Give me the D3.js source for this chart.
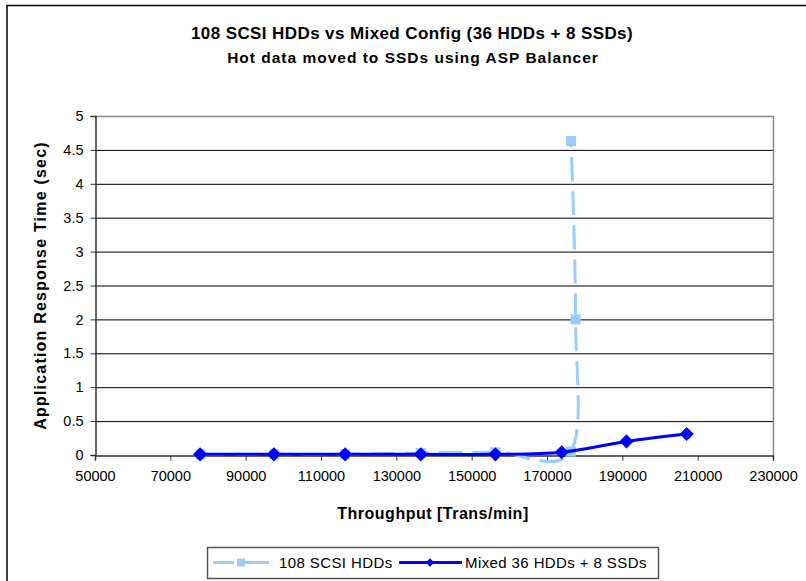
<!DOCTYPE html>
<html>
<head>
<meta charset="utf-8">
<script src="https://cdn.jsdelivr.net/npm/d3@7"></script>
<style>
  body { margin: 0; background: #fff; }
  text { font-family: "Liberation Sans", Arial, sans-serif; }
</style>
</head>
<body>
<div id="container"></div>
<script>
// data
const hddThroughput = [78000, 97500, 116400, 136500, 156300, 176300, 177600, 176400];
const hddResponse   = [0.01, 0.01, 0.01, 0.03, 0.04, 0.05, 2.0, 4.63];
const mixThroughput = [77900, 97500, 116400, 136500, 156300, 173900, 191100, 207100];
const mixResponse   = [0.01, 0.01, 0.01, 0.01, 0.01, 0.04, 0.2, 0.31];
const xTicks = [50000, 70000, 90000, 110000, 130000, 150000, 170000, 190000, 210000, 230000];
const yTicks = [0, 0.5, 1, 1.5, 2, 2.5, 3, 3.5, 4, 4.5, 5];
const seriesNames = ["108 SCSI HDDs", "Mixed 36 HDDs + 8 SSDs"];

const width = 806;
const height = 581;
const margin = {top: 116, right: 33, bottom: 126, left: 95};

const x = d3.scaleLinear()
    .domain([50000, 230000])
    .range([margin.left, width - margin.right]);

const y = d3.scaleLinear()
    .domain([0, 5])
    .range([height - margin.bottom, margin.top]);

const svg = d3.create("svg")
    .attr("width", width)
    .attr("height", height);

// outer chart frame (runs off the right/bottom edge)
svg.append("rect")
    .attr("x", 7).attr("y", 5.5)
    .attr("width", 820).attr("height", 600)
    .attr("fill", "#fff")
    .attr("stroke", "#000")
    .attr("stroke-width", 1.5);

// titles
svg.append("text")
    .attr("x", 412).attr("y", 39)
    .attr("text-anchor", "middle")
    .attr("font-size", 17).attr("font-weight", "bold")
    .attr("letter-spacing", 0.4)
    .text("108 SCSI HDDs vs Mixed Config (36 HDDs + 8 SSDs)");
svg.append("text")
    .attr("x", 413).attr("y", 63)
    .attr("text-anchor", "middle")
    .attr("font-size", 15.5).attr("font-weight", "bold")
    .attr("letter-spacing", 1)
    .text("Hot data moved to SSDs using ASP Balancer");

// gridlines
svg.append("g")
    .selectAll("line")
    .data(yTicks.filter(d => d > 0 && d < 5))
    .join("line")
    .attr("x1", x(50000)).attr("x2", x(230000))
    .attr("y1", d => y(d) + 0.5).attr("y2", d => y(d) + 0.5)
    .attr("stroke", "#000")
    .attr("stroke-width", 1);

// plot frame top / right
svg.append("path")
    .attr("d", `M${x(50000)},${y(5) + 0.5}H${x(230000) + 0.5}V${y(0)}`)
    .attr("fill", "none")
    .attr("stroke", "#888")
    .attr("stroke-width", 1.5);

// axes
const xAxis = svg.append("g")
    .attr("transform", `translate(0,${y(0) + 0.5})`)
    .call(d3.axisBottom(x).tickValues(xTicks).tickFormat(d3.format("d")).tickSize(5).tickPadding(10));
const yAxis = svg.append("g")
    .attr("transform", `translate(${x(50000) + 0.5},0)`)
    .call(d3.axisLeft(y).tickValues(yTicks).tickFormat(d => String(d)).tickSize(5).tickPadding(7));

[xAxis, yAxis].forEach(g => {
  g.select(".domain").attr("stroke", "#333").attr("stroke-width", 1.5);
  g.selectAll(".tick line").attr("stroke", "#333");
  g.selectAll(".tick text")
    .attr("font-family", "Liberation Sans, Arial, sans-serif")
    .attr("font-size", 14.5).attr("fill", "#000");
});

// axis titles
svg.append("text")
    .attr("x", 433).attr("y", 519)
    .attr("text-anchor", "middle")
    .attr("font-size", 16).attr("font-weight", "bold")
    .attr("letter-spacing", 0.5)
    .text("Throughput [Trans/min]");
svg.append("text")
    .attr("transform", `translate(46,${(y(0) + y(5)) / 2}) rotate(-90)`)
    .attr("text-anchor", "middle")
    .attr("font-size", 16).attr("font-weight", "bold")
    .attr("letter-spacing", 1.2)
    .text("Application Response Time (sec)");

// series
const hdd = hddThroughput.map((d, i) => [d, hddResponse[i]]);
const mix = mixThroughput.map((d, i) => [d, mixResponse[i]]);

const line = d3.line()
    .x(d => x(d[0]))
    .y(d => y(d[1]))
    .curve(d3.curveCardinal.tension(0));

const square = d3.symbol().type(d3.symbolSquare).size(100);

svg.append("path")
    .datum(hdd)
    .attr("d", line)
    .attr("fill", "none")
    .attr("stroke", "#99CCFF")
    .attr("stroke-width", 3)
    .attr("stroke-dasharray", "24,10");
svg.append("g")
    .selectAll("path")
    .data(hdd)
    .join("path")
    .attr("transform", d => `translate(${x(d[0])},${y(d[1])})`)
    .attr("d", square)
    .attr("fill", "#99CCFF");

svg.append("path")
    .datum(mix)
    .attr("d", line)
    .attr("fill", "none")
    .attr("stroke", "#0000FF")
    .attr("stroke-width", 3);
svg.append("g")
    .selectAll("path")
    .data(mix)
    .join("path")
    .attr("transform", d => `translate(${x(d[0])},${y(d[1])}) rotate(45)`)
    .attr("d", square)
    .attr("fill", "#0000FF");

// legend
const legend = svg.append("g");
legend.append("rect")
    .attr("x", 207.5).attr("y", 547.5)
    .attr("width", 451).attr("height", 31)
    .attr("fill", "#fff")
    .attr("stroke", "#555")
    .attr("stroke-width", 1.5);

legend.append("line")
    .attr("x1", 213).attr("x2", 269).attr("y1", 562.5).attr("y2", 562.5)
    .attr("stroke", "#99CCFF").attr("stroke-width", 3)
    .attr("stroke-dasharray", "21,4,31");
legend.append("path")
    .attr("transform", "translate(241,562.5)")
    .attr("d", d3.symbol().type(d3.symbolSquare).size(64))
    .attr("fill", "#99CCFF");
legend.append("text")
    .attr("x", 279).attr("y", 568)
    .attr("font-size", 15)
    .attr("letter-spacing", 0.4)
    .text(seriesNames[0]);

legend.append("line")
    .attr("x1", 399).attr("x2", 462).attr("y1", 562.5).attr("y2", 562.5)
    .attr("stroke", "#0000FF").attr("stroke-width", 3);
legend.append("path")
    .attr("transform", "translate(430,562.5) rotate(45)")
    .attr("d", d3.symbol().type(d3.symbolSquare).size(36))
    .attr("fill", "#0000FF");
legend.append("text")
    .attr("x", 465).attr("y", 568)
    .attr("font-size", 15)
    .attr("letter-spacing", 0.4)
    .text(seriesNames[1]);

document.getElementById("container").append(svg.node());
</script>
</body>
</html>
